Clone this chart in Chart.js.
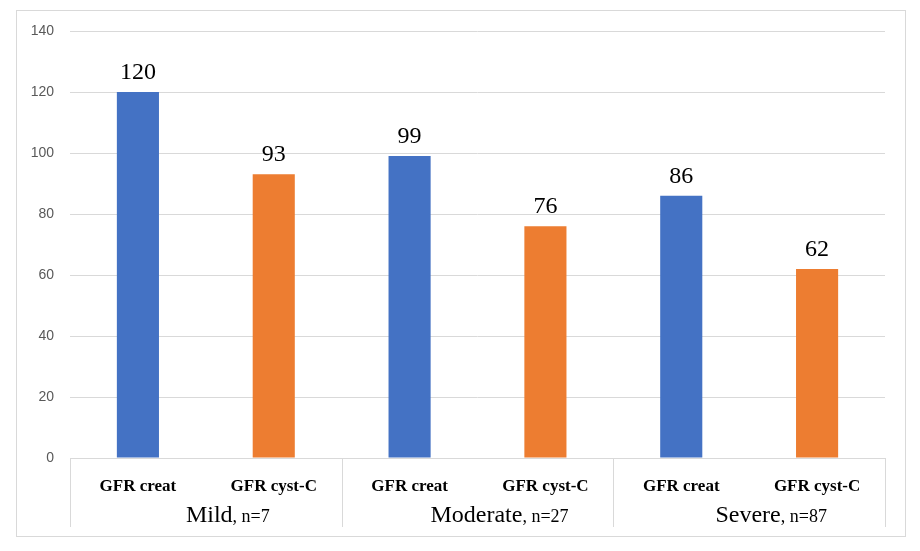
<!DOCTYPE html>
<html>
<head>
<meta charset="utf-8">
<script src="https://cdn.jsdelivr.net/npm/chart.js@4"></script>
<style>
    body { margin: 0; background: #fff; }
    #marco { position: absolute; left: 16px; top: 10px; width: 888px; height: 525px; border: 1px solid #d9d9d9; }
    #lienzo { position: absolute; left: 0; top: 0; }
</style>
</head>
<body>
<div id="marco"></div>
<div id="lienzo" style="width:920px;height:551px"><canvas id="gfr"></canvas></div>
<script>
const medidas = ["GFR creat", "GFR cyst-C", "GFR creat", "GFR cyst-C", "GFR creat", "GFR cyst-C"];
const valores = [120, 93, 99, 76, 86, 62];
const grupos = ["Mild", "Moderate", "Severe"];
const tamanos = [", n=7", ", n=27", ", n=87"];
const ticksY = [0, 20, 40, 60, 80, 100, 120, 140];

const colorAzul = "#4472C4";
const colorNaranja = "#ED7D31";
const colorLinea = "#d9d9d9";

const etiquetasValor = {
    id: "etiquetasValor",
    afterDatasetsDraw(chart) {
        const ctx = chart.ctx;
        const meta = chart.getDatasetMeta(0);
        ctx.save();
        ctx.font = "24px 'Liberation Serif', serif";
        ctx.fillStyle = "#000";
        ctx.textAlign = "center";
        ctx.textBaseline = "alphabetic";
        meta.data.forEach((barra, i) => {
            ctx.fillText(String(valores[i]), barra.x, barra.y - 13);
        });
        ctx.restore();
    },
};

const gruposEje = {
    id: "gruposEje",
    afterDraw(chart) {
        const ctx = chart.ctx;
        const x = chart.scales.x;
        const area = chart.chartArea;
        const ancho = (area.right - area.left) / medidas.length;
        ctx.save();
        ctx.strokeStyle = colorLinea;
        ctx.lineWidth = 1;
        for (let g = 0; g <= grupos.length; g++) {
            const px = Math.round(area.left + g * 2 * ancho) + 0.5;
            ctx.beginPath();
            ctx.moveTo(px, area.bottom);
            ctx.lineTo(px, area.bottom + 69);
            ctx.stroke();
        }
        ctx.fillStyle = "#000";
        ctx.textBaseline = "alphabetic";
        grupos.forEach((nombre, g) => {
            const centro = (x.getPixelForValue(g * 2) + x.getPixelForValue(g * 2 + 1)) / 2 + 22;
            ctx.font = "24px 'Liberation Serif', serif";
            const a1 = ctx.measureText(nombre).width;
            ctx.font = "18px 'Liberation Serif', serif";
            const a2 = ctx.measureText(tamanos[g]).width;
            const inicio = centro - (a1 + a2) / 2;
            ctx.textAlign = "left";
            ctx.font = "24px 'Liberation Serif', serif";
            ctx.fillText(nombre, inicio, area.bottom + 64);
            ctx.font = "18px 'Liberation Serif', serif";
            ctx.fillText(tamanos[g], inicio + a1, area.bottom + 64);
        });
        ctx.restore();
    },
};

new Chart(document.getElementById("gfr"), {
    type: "bar",
    data: {
        labels: medidas,
        datasets: [
            {
                data: valores,
                backgroundColor: medidas.map((m, i) => (i % 2 === 0 ? colorAzul : colorNaranja)),
                borderWidth: 0,
                categoryPercentage: 1,
                barPercentage: 0.31,
            },
        ],
    },
    options: {
        responsive: true,
        maintainAspectRatio: false,
        animation: false,
        layout: { padding: { left: 16, right: 35, top: 31, bottom: 24 } },
        scales: {
            x: {
                grid: { display: false, drawTicks: false },
                border: { color: colorLinea },
                afterFit: (s) => { s.height = 69; },
                ticks: {
                    padding: 18,
                    maxRotation: 0,
                    font: { family: "'Liberation Serif', serif", size: 17, weight: "bold" },
                    color: "#000",
                },
            },
            y: {
                min: 0,
                max: 140,
                afterFit: (s) => { s.width = 54; },
                afterBuildTicks: (s) => { s.ticks = ticksY.map((v) => ({ value: v })); },
                grid: { color: colorLinea, drawTicks: false },
                border: { display: false },
                ticks: {
                    padding: 16,
                    font: { family: "'Liberation Sans', sans-serif", size: 14 },
                    color: "#595959",
                },
            },
        },
        plugins: {
            legend: { display: false },
            tooltip: { enabled: false },
        },
    },
    plugins: [etiquetasValor, gruposEje],
});
</script>
</body>
</html>
